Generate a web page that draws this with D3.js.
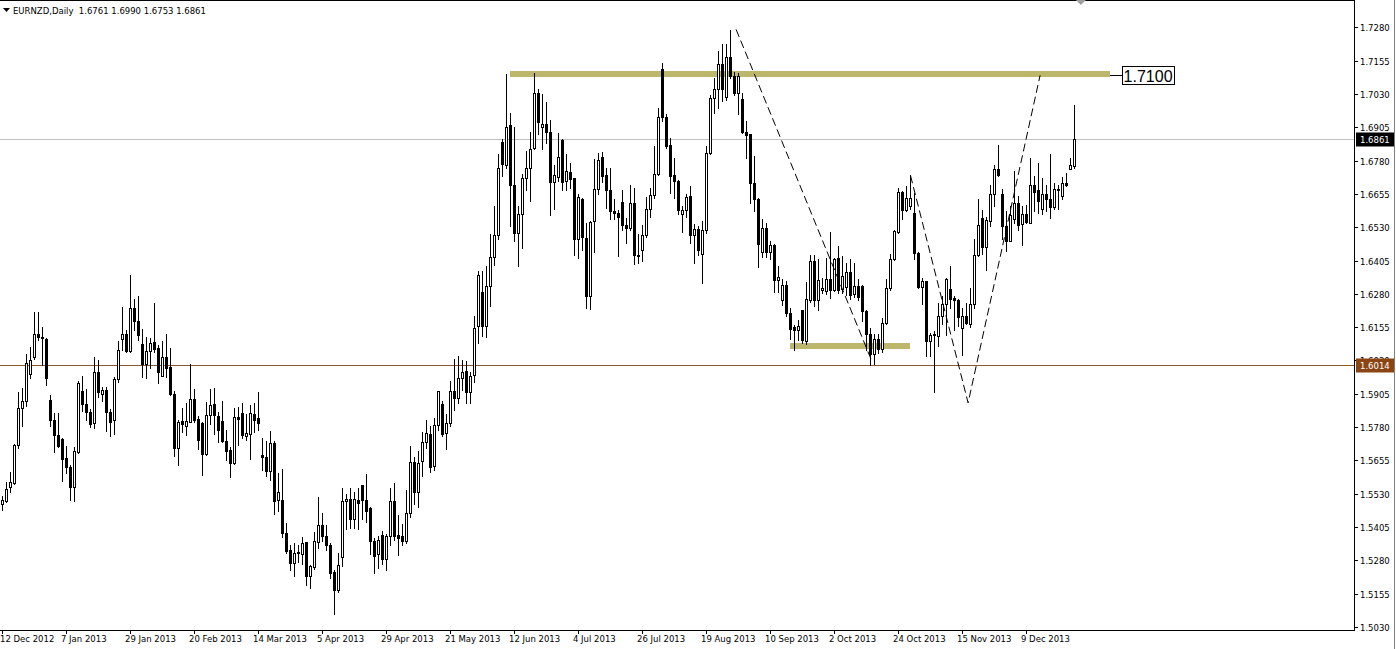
<!DOCTYPE html>
<html><head><meta charset="utf-8">
<script src="https://cdn.jsdelivr.net/npm/d3@7"></script>
<style>
html,body{margin:0;padding:0;background:#fff;}
svg{display:block;}
</style></head>
<body>
<svg id="chart" width="1396" height="649"></svg>
<script>
// ---- data ----
const symbolTitle = "EURNZD,Daily";
const lastBar = ["1.6761","1.6990","1.6753","1.6861"];
const openP = [1.5491,1.5503,1.5555,1.5572,1.5711,1.5852,1.5879,1.5979,1.6042,1.6131,1.6114,1.6112,1.5883,1.5808,1.5751,1.5736,1.5664,1.5630,1.5555,1.5685,
1.5917,1.5867,1.5836,1.5795,1.5987,1.5904,1.5920,1.5838,1.5805,1.5960,1.6109,1.6129,1.6064,1.6225,1.6179,1.6093,1.6018,1.6064,1.6099,1.6077,
1.5973,1.6043,1.6005,1.5905,1.5701,1.5804,1.5786,1.5801,1.5885,1.5811,1.5795,1.5679,1.5824,1.5866,1.5823,1.5804,1.5729,1.5695,1.5645,1.5818,
1.5833,1.5745,1.5754,1.5830,1.5814,1.5676,1.5667,1.5614,1.5720,1.5505,1.5507,1.5382,1.5319,1.5269,1.5307,1.5303,1.5348,1.5223,1.5256,1.5350,
1.5413,1.5372,1.5339,1.5238,1.5169,1.5294,1.5501,1.5511,1.5435,1.5507,1.5564,1.5507,1.5476,1.5353,1.5303,1.5376,1.5284,1.5372,1.5503,1.5376,
1.5372,1.5351,1.5457,1.5649,1.5535,1.5651,1.5724,1.5755,1.5635,1.5789,1.5866,1.5758,1.5795,1.5914,1.5889,1.5964,1.5992,1.5912,1.5977,1.6158,
1.6287,1.6158,1.6308,1.6419,1.6499,1.6851,1.6763,1.6912,1.6690,1.6509,1.6578,1.6715,1.6753,1.6828,1.7035,1.6906,1.6918,1.6888,1.6700,1.6719,
1.6857,1.6705,1.6738,1.6713,1.6484,1.6634,1.6490,1.6271,1.6553,1.6672,1.6794,1.6724,1.6668,1.6592,1.6584,1.6625,1.6540,1.6528,1.6621,1.6427,
1.6444,1.6500,1.6599,1.6650,1.6730,1.7125,1.6943,1.6837,1.6724,1.6703,1.6578,1.6594,1.6646,1.6500,1.6525,1.6430,1.6519,1.6809,1.7013,1.7050,
1.7141,1.7018,1.7170,1.7099,1.7035,1.7012,1.6888,1.6878,1.6697,1.6636,1.6436,1.6526,1.6436,1.6465,1.6331,1.6255,1.6312,1.6208,1.6155,1.6145,
1.6221,1.6102,1.6258,1.6405,1.6258,1.6296,1.6290,1.6337,1.6296,1.6415,1.6298,1.6306,1.6361,1.6280,1.6311,1.6311,1.6217,1.6129,1.6056,1.6111,
1.6073,1.6171,1.6302,1.6409,1.6511,1.6663,1.6596,1.6609,1.6584,1.6434,1.6305,1.6327,1.6102,1.6127,1.6121,1.6196,1.6240,1.6298,1.6263,1.6258,
1.6152,1.6198,1.6165,1.6240,1.6424,1.6563,1.6456,1.6553,1.6655,1.6750,1.6655,1.6534,1.6478,1.6559,1.6622,1.6543,1.6580,1.6547,1.6687,1.6668,
1.6600,1.6655,1.6637,1.6606,1.6668,1.6647,1.6697,1.6749,1.6761];
const highP = [1.5522,1.5574,1.5611,1.5718,1.5912,1.5928,1.6056,1.6082,1.6213,1.6213,1.6157,1.6114,1.5902,1.5834,1.5833,1.5739,1.5708,1.5636,1.5704,1.5954,
1.5970,1.5924,1.5848,1.6043,1.6033,1.5930,1.5930,1.5849,1.5967,1.6104,1.6231,1.6146,1.6352,1.6260,1.6273,1.6149,1.6117,1.6115,1.6246,1.6089,
1.6103,1.6128,1.6077,1.5914,1.5808,1.5851,1.5870,1.6017,1.5923,1.5820,1.5801,1.5876,1.5923,1.5927,1.5836,1.5879,1.5770,1.5705,1.5851,1.5854,
1.5870,1.5829,1.5864,1.5870,1.5912,1.5739,1.5726,1.5764,1.5729,1.5607,1.5624,1.5420,1.5338,1.5344,1.5336,1.5369,1.5348,1.5263,1.5386,1.5516,
1.5457,1.5413,1.5344,1.5242,1.5307,1.5551,1.5530,1.5551,1.5536,1.5551,1.5564,1.5605,1.5480,1.5363,1.5370,1.5391,1.5380,1.5551,1.5572,1.5451,
1.5416,1.5545,1.5710,1.5666,1.5689,1.5760,1.5808,1.5784,1.5814,1.5916,1.5877,1.5830,1.5954,1.6036,1.6048,1.6033,1.6027,1.5985,1.6198,1.6365,
1.6365,1.6384,1.6506,1.6609,1.6803,1.6862,1.7103,1.6957,1.6907,1.6609,1.6728,1.6815,1.6887,1.7107,1.7050,1.7031,1.7001,1.6934,1.6762,1.6882,
1.6862,1.6803,1.6772,1.6715,1.6653,1.6640,1.6544,1.6553,1.6787,1.6807,1.6812,1.6753,1.6753,1.6634,1.6596,1.6668,1.6565,1.6690,1.6678,1.6503,
1.6540,1.6643,1.6678,1.6834,1.6978,1.7147,1.6953,1.6866,1.6790,1.6706,1.6609,1.6653,1.6684,1.6543,1.6535,1.6553,1.6834,1.7026,1.7091,1.7191,
1.7216,1.7216,1.7269,1.7112,1.7110,1.7035,1.6928,1.6878,1.6797,1.6640,1.6559,1.6546,1.6477,1.6468,1.6384,1.6337,1.6327,1.6227,1.6164,1.6183,
1.6221,1.6323,1.6424,1.6424,1.6409,1.6340,1.6415,1.6511,1.6415,1.6459,1.6421,1.6396,1.6409,1.6396,1.6334,1.6315,1.6220,1.6152,1.6131,1.6131,
1.6190,1.6334,1.6430,1.6521,1.6678,1.6665,1.6684,1.6724,1.6659,1.6437,1.6340,1.6327,1.6133,1.6140,1.6246,1.6271,1.6340,1.6384,1.6273,1.6262,
1.6227,1.6246,1.6302,1.6484,1.6634,1.6596,1.6569,1.6690,1.6762,1.6837,1.6674,1.6590,1.6609,1.6740,1.6647,1.6609,1.6612,1.6791,1.6722,1.6772,
1.6714,1.6687,1.6803,1.6697,1.6690,1.6719,1.6734,1.6791,1.6990];
const lowP = [1.5470,1.5498,1.5538,1.5567,1.5701,1.5786,1.5858,1.5963,1.6037,1.6108,1.6014,1.5937,1.5786,1.5685,1.5705,1.5579,1.5607,1.5507,1.5501,1.5682,
1.5839,1.5808,1.5779,1.5775,1.5892,1.5877,1.5766,1.5745,1.5755,1.5949,1.6070,1.6062,1.6062,1.6143,1.6108,1.5967,1.5964,1.6002,1.6061,1.5945,
1.5970,1.5967,1.5899,1.5672,1.5636,1.5760,1.5751,1.5799,1.5801,1.5697,1.5601,1.5674,1.5791,1.5754,1.5723,1.5723,1.5655,1.5591,1.5642,1.5714,
1.5739,1.5733,1.5661,1.5760,1.5770,1.5620,1.5597,1.5580,1.5453,1.5467,1.5369,1.5309,1.5242,1.5223,1.5273,1.5265,1.5188,1.5175,1.5248,1.5328,
1.5353,1.5319,1.5215,1.5078,1.5163,1.5257,1.5398,1.5403,1.5403,1.5398,1.5435,1.5423,1.5304,1.5232,1.5251,1.5267,1.5244,1.5336,1.5357,1.5301,
1.5336,1.5347,1.5441,1.5492,1.5482,1.5595,1.5700,1.5610,1.5620,1.5770,1.5748,1.5698,1.5783,1.5843,1.5870,1.5920,1.5870,1.5870,1.5948,1.6096,
1.6123,1.6118,1.6236,1.6390,1.6487,1.6722,1.6753,1.6534,1.6477,1.6384,1.6452,1.6668,1.6628,1.6824,1.6878,1.6824,1.6847,1.6575,1.6599,1.6703,
1.6669,1.6669,1.6678,1.6425,1.6415,1.6444,1.6227,1.6224,1.6436,1.6653,1.6700,1.6603,1.6561,1.6559,1.6421,1.6519,1.6471,1.6519,1.6392,1.6396,
1.6402,1.6494,1.6568,1.6641,1.6724,1.6928,1.6828,1.6659,1.6638,1.6580,1.6513,1.6567,1.6471,1.6396,1.6427,1.6321,1.6509,1.6805,1.6960,1.6978,
1.7003,1.7006,1.7091,1.7025,1.6953,1.6884,1.6790,1.6619,1.6590,1.6381,1.6419,1.6419,1.6409,1.6287,1.6287,1.6237,1.6198,1.6111,1.6071,1.6106,
1.6096,1.6090,1.6250,1.6233,1.6221,1.6282,1.6281,1.6265,1.6290,1.6284,1.6283,1.6277,1.6260,1.6269,1.6258,1.6177,1.6071,1.6012,1.6018,1.6058,
1.6062,1.6165,1.6296,1.6406,1.6508,1.6561,1.6590,1.6600,1.6409,1.6302,1.6240,1.6046,1.6046,1.5910,1.6083,1.6165,1.6127,1.6227,1.6143,1.6158,
1.6049,1.6165,1.6156,1.6227,1.6421,1.6431,1.6371,1.6534,1.6609,1.6722,1.6484,1.6440,1.6478,1.6546,1.6521,1.6465,1.6544,1.6544,1.6590,1.6584,
1.6578,1.6590,1.6565,1.6597,1.6597,1.6634,1.6684,1.6747,1.6753];
const closeP = [1.5507,1.5547,1.5574,1.5714,1.5853,1.5878,1.6021,1.6033,1.6131,1.6118,1.6118,1.5963,1.5805,1.5749,1.5708,1.5662,1.5629,1.5555,1.5689,1.5945,
1.5867,1.5835,1.5793,1.5987,1.5912,1.5919,1.5835,1.5801,1.5962,1.6069,1.6129,1.6064,1.6225,1.6177,1.6127,1.6018,1.6066,1.6096,1.6073,1.5987,
1.6043,1.6002,1.5904,1.5701,1.5801,1.5791,1.5804,1.5885,1.5805,1.5730,1.5680,1.5824,1.5864,1.5824,1.5770,1.5729,1.5692,1.5645,1.5818,1.5811,
1.5749,1.5758,1.5833,1.5808,1.5795,1.5667,1.5614,1.5720,1.5501,1.5536,1.5384,1.5316,1.5269,1.5307,1.5311,1.5347,1.5223,1.5259,1.5353,1.5411,
1.5370,1.5336,1.5234,1.5169,1.5263,1.5503,1.5511,1.5435,1.5510,1.5497,1.5505,1.5467,1.5351,1.5298,1.5357,1.5284,1.5372,1.5503,1.5372,1.5363,
1.5351,1.5457,1.5649,1.5535,1.5645,1.5724,1.5758,1.5630,1.5789,1.5914,1.5755,1.5795,1.5914,1.5889,1.5964,1.5987,1.5912,1.5973,1.6152,1.6349,
1.6158,1.6308,1.6419,1.6499,1.6753,1.6768,1.6907,1.6688,1.6509,1.6578,1.6715,1.6753,1.6824,1.7035,1.6926,1.6916,1.6887,1.6700,1.6724,1.6794,
1.6700,1.6740,1.6712,1.6484,1.6643,1.6494,1.6271,1.6550,1.6672,1.6784,1.6722,1.6668,1.6590,1.6584,1.6569,1.6538,1.6528,1.6621,1.6424,1.6421,
1.6500,1.6599,1.6650,1.6730,1.6943,1.6943,1.6834,1.6722,1.6703,1.6594,1.6596,1.6644,1.6500,1.6525,1.6444,1.6521,1.6809,1.7013,1.7050,1.7141,
1.7050,1.7170,1.7097,1.7035,1.7099,1.6888,1.6876,1.6697,1.6634,1.6467,1.6528,1.6436,1.6465,1.6331,1.6343,1.6312,1.6208,1.6148,1.6146,1.6158,
1.6108,1.6262,1.6405,1.6258,1.6333,1.6301,1.6337,1.6296,1.6411,1.6296,1.6346,1.6361,1.6277,1.6311,1.6267,1.6217,1.6129,1.6056,1.6111,1.6073,
1.6171,1.6302,1.6409,1.6515,1.6663,1.6596,1.6640,1.6640,1.6434,1.6305,1.6327,1.6102,1.6127,1.6131,1.6196,1.6240,1.6337,1.6261,1.6258,1.6193,
1.6198,1.6171,1.6240,1.6424,1.6540,1.6456,1.6556,1.6655,1.6750,1.6725,1.6534,1.6480,1.6574,1.6622,1.6537,1.6580,1.6549,1.6687,1.6662,1.6628,
1.6655,1.6634,1.6606,1.6672,1.6675,1.6697,1.6689,1.6762,1.6861];
const dateLabels = ["12 Dec 2012","7 Jan 2013","29 Jan 2013","20 Feb 2013","14 Mar 2013","5 Apr 2013","29 Apr 2013","21 May 2013","12 Jun 2013","4 Jul 2013","26 Jul 2013","19 Aug 2013","10 Sep 2013","2 Oct 2013","24 Oct 2013","15 Nov 2013","9 Dec 2013"];
const dateLabelBars = [0,16,32,48,64,80,96,112,128,144,160,176,192,208,224,240,256];
const priceTicks = [1.5030,1.5155,1.5280,1.5405,1.5530,1.5655,1.5780,1.5905,1.6030,1.6155,1.6280,1.6405,1.6530,1.6655,1.6780,1.6905,1.7030,1.7155,1.7280];
const bidPrice = 1.6861;
const brownLevel = 1.6014;
const resistance = {price:1.7100, fromBar:126.9, toBar:276.9, label:"1.7100"};
const support = {price:1.6081, fromBar:196.9, toBar:226.9};
const dashLine1 = [[183.4,1.7272],[217.4,1.6025]];
const dashLine2 = [[227,1.6724],[241.4,1.5871],[259.4,1.7100]];
const shiftBar = 269.6;

// ---- drawing ----
const FONT = "'DejaVu Sans', sans-serif";
const svg = d3.select("#chart");
const W = 1396, H = 649;
const plotR = 1354, plotB = 630;
const N = closeP.length;
const x = d3.scaleLinear().domain([0, 1]).range([2.5, 6.5]);
const y = d3.scaleLinear().domain([1.5030, 1.7280]).range([627, 27.3]);
const ry = v => Math.round(y(v));

svg.append("rect").attr("width", W).attr("height", H).attr("fill", "#fff");

const plot = svg.append("g");
plot.append("clipPath").attr("id","clip").append("rect").attr("x",0).attr("y",0).attr("width",plotR).attr("height",plotB);
const g = plot.append("g").attr("clip-path","url(#clip)").attr("shape-rendering","crispEdges");

// horizontal level lines
g.append("line").attr("x1",0).attr("x2",plotR).attr("y1",ry(bidPrice)+0.5).attr("y2",ry(bidPrice)+0.5)
  .attr("stroke","#c0c0c0").attr("stroke-width",1);
g.append("line").attr("x1",0).attr("x2",plotR).attr("y1",ry(brownLevel)+0.5).attr("y2",ry(brownLevel)+0.5)
  .attr("stroke","#8b5a2b").attr("stroke-width",1);

// khaki bands
[resistance, support].forEach(b => {
  g.append("rect").attr("x", x(b.fromBar)).attr("width", x(b.toBar)-x(b.fromBar))
   .attr("y", ry(b.price)-4).attr("height", 6).attr("fill", "#bdb76b");
});

// candles
const idx = d3.range(N);
g.selectAll("rect.wick").data(idx).join("rect").attr("class","wick")
  .attr("x", i => x(i)-0.5).attr("width",1)
  .attr("y", i => ry(highP[i])).attr("height", i => ry(lowP[i]) - ry(highP[i]) + 1)
  .attr("fill","#000");
g.selectAll("rect.body").data(idx).join("rect").attr("class","body")
  .each(function(i){
    const o = openP[i], c = closeP[i];
    const top = ry(Math.max(o,c)), bot = ry(Math.min(o,c));
    const s = d3.select(this);
    if (c < o) {
      s.attr("x", x(i)-1.5).attr("width",3).attr("y", top).attr("height", bot-top+1).attr("fill","#000");
    } else {
      s.attr("x", x(i)-1).attr("width",2).attr("y", top+0.5).attr("height", Math.max(bot-top,0)).attr("fill","#fff")
       .attr("stroke","#000").attr("stroke-width",1);
    }
  });

// dashed trend lines
const lineGen = d3.line().x(d => x(d[0])).y(d => y(d[1]));
[dashLine1, dashLine2].forEach(pts => {
  plot.append("path").attr("d", lineGen(pts)).attr("fill","none").attr("stroke","#000")
    .attr("stroke-width",1).attr("stroke-dasharray","8,4").attr("clip-path","url(#clip)");
});

// resistance label
const ly = Math.round(y(resistance.price)) + 0.5;
svg.append("line").attr("x1", x(resistance.toBar)).attr("x2", x(resistance.toBar)+12).attr("y1", ly).attr("y2", ly)
  .attr("stroke","#000").attr("shape-rendering","crispEdges");
const lbl = svg.append("text").attr("x", x(resistance.toBar)+13.5).attr("y", ly+6)
  .style("font-family","'Liberation Sans', Arial, sans-serif").style("font-size","16px").attr("fill","#000").text(resistance.label);
const bb = lbl.node().getBBox();
svg.insert("rect", "text").attr("x", Math.round(bb.x)-1.5).attr("y", ly-9).attr("width", Math.round(bb.width)+3).attr("height",18)
  .attr("fill","#fff").attr("stroke","#000").attr("shape-rendering","crispEdges");

// frame
svg.append("line").attr("x1",0).attr("x2",plotR).attr("y1",0.5).attr("y2",0.5).attr("stroke","#000").attr("shape-rendering","crispEdges");
svg.append("line").attr("x1",plotR+0.5).attr("x2",plotR+0.5).attr("y1",0).attr("y2",plotB).attr("stroke","#000").attr("shape-rendering","crispEdges");
svg.append("line").attr("x1",0).attr("x2",plotR+1).attr("y1",plotB+0.5).attr("y2",plotB+0.5).attr("stroke","#000").attr("shape-rendering","crispEdges");
svg.append("line").attr("x1",W-1.5).attr("x2",W-1.5).attr("y1",0).attr("y2",H).attr("stroke","#808080").attr("shape-rendering","crispEdges");

// shift marker
const sx = x(shiftBar);
svg.append("path").attr("d", `M${sx-5},0L${sx+5},0L${sx},5Z`).attr("fill","#a0a0a0");

// right price axis
const ya = svg.append("g").style("font-family", FONT).style("font-size","8.5px");
priceTicks.forEach(p => {
  const yy = ry(p) + 0.5;
  ya.append("line").attr("x1",plotR+1).attr("x2",plotR+4).attr("y1",yy).attr("y2",yy).attr("stroke","#000").attr("shape-rendering","crispEdges");
  ya.append("text").attr("x",plotR+6).attr("y",yy+3.5).attr("fill","#000").text(d3.format(".4f")(p));
});
function priceBox(p, bg){
  const yy = ry(p) + 0.5;
  ya.append("rect").attr("x",plotR+2).attr("y",yy-7).attr("width",38).attr("height",14).attr("fill",bg);
  ya.append("text").attr("x",plotR+6).attr("y",yy+3.5).attr("fill","#fff").text(d3.format(".4f")(p));
}
priceBox(bidPrice, "#000");
priceBox(brownLevel, "#8b4513");

// bottom time axis
const xa = svg.append("g").style("font-family", FONT).style("font-size","8.5px");
dateLabels.forEach((t,k) => {
  const bx = x(dateLabelBars[k]);
  xa.append("line").attr("x1",Math.round(bx)-0.5).attr("x2",Math.round(bx)-0.5).attr("y1",plotB+1).attr("y2",plotB+4)
    .attr("stroke","#000").attr("shape-rendering","crispEdges");
  xa.append("text").attr("x", Math.max(0, bx-5.5)).attr("y", plotB+12).attr("fill","#000").text(t);
});

// header
svg.append("path").attr("d","M3,8L10,8L6.5,12Z").attr("fill","#000");
svg.append("text").attr("x",13).attr("y",14).style("font-family", FONT).style("font-size","8.5px").style("white-space","pre")
  .attr("fill","#000").text(symbolTitle + "  " + lastBar.join(" "));
</script>
</body></html>
